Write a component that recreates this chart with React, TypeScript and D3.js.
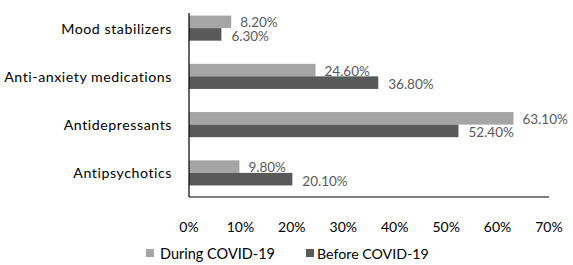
import React from "react";
import * as d3 from "d3";

const categories = ["Mood stabilizers", "Anti-anxiety medications", "Antidepressants", "Antipsychotics"];
const duringValues = [8.2, 24.6, 63.1, 9.8];
const beforeValues = [6.3, 36.8, 52.4, 20.1];
const xTicks = [0, 10, 20, 30, 40, 50, 60, 70];
const seriesNames = ["During COVID-19", "Before COVID-19"];

const W = 573;
const H = 265;
const FONT = "Lato, 'Open Sans', sans-serif";
const LIGHT = "#a5a5a5";
const DARK = "#595959";

export default function App() {
  const x = d3.scaleLinear().domain([0, 70]).range([189, 549]);
  const y = d3.scaleBand<string>().domain(categories).range([4, 197]).paddingInner(0.48).paddingOuter(0.24);
  const bh = y.bandwidth() / 2;
  const fmt = (v: number) => v.toFixed(2) + "%";

  return (
    <svg width={W} height={H} style={{ position: "absolute", left: 0, top: 0, background: "#fff" }}>
      {categories.map((c, i) => {
        const y0 = y(c)!;
        return (
          <g key={c}>
            <rect x={x(0)} y={y0} width={x(duringValues[i]) - x(0)} height={bh} fill={LIGHT} />
            <rect x={x(0)} y={y0 + bh} width={x(beforeValues[i]) - x(0)} height={bh} fill={DARK} />
            <text x={x(duringValues[i]) + 9} y={y0 + bh / 2 + 0.5} dominantBaseline="central" fontSize={13.5} fill={DARK} fontFamily={FONT}>{fmt(duringValues[i])}</text>
            <text x={x(beforeValues[i]) + 10} y={y0 + bh * 1.5 + 1.5} dominantBaseline="central" fontSize={13.5} fill={DARK} fontFamily={FONT}>{fmt(beforeValues[i])}</text>
            <text x={172} y={y0 + bh} textAnchor="end" dominantBaseline="central" fontSize={14.2} letterSpacing={0.55} fill="#000" fontFamily={FONT}>{c}</text>
          </g>
        );
      })}
      <line x1={x(0)} x2={x(0)} y1={13} y2={197} stroke="#000" strokeWidth={1.2} />
      <line x1={x(0)} x2={x(70)} y1={197} y2={197} stroke="#000" strokeWidth={1.2} />
      {xTicks.map((t) => (
        <text key={t} x={x(t)} y={226} textAnchor="middle" dominantBaseline="central" fontSize={14} fill="#000" fontFamily={FONT}>{t}%</text>
      ))}
      <rect x={146} y={249} width={8} height={8} fill={LIGHT} />
      <text x={160} y={253} dominantBaseline="central" fontSize={14.5} fill="#000" fontFamily={FONT}>{seriesNames[0]}</text>
      <rect x={306} y={249} width={8} height={8} fill={DARK} />
      <text x={317} y={253} dominantBaseline="central" fontSize={14.2} fill="#000" fontFamily={FONT}>{seriesNames[1]}</text>
    </svg>
  );
}
